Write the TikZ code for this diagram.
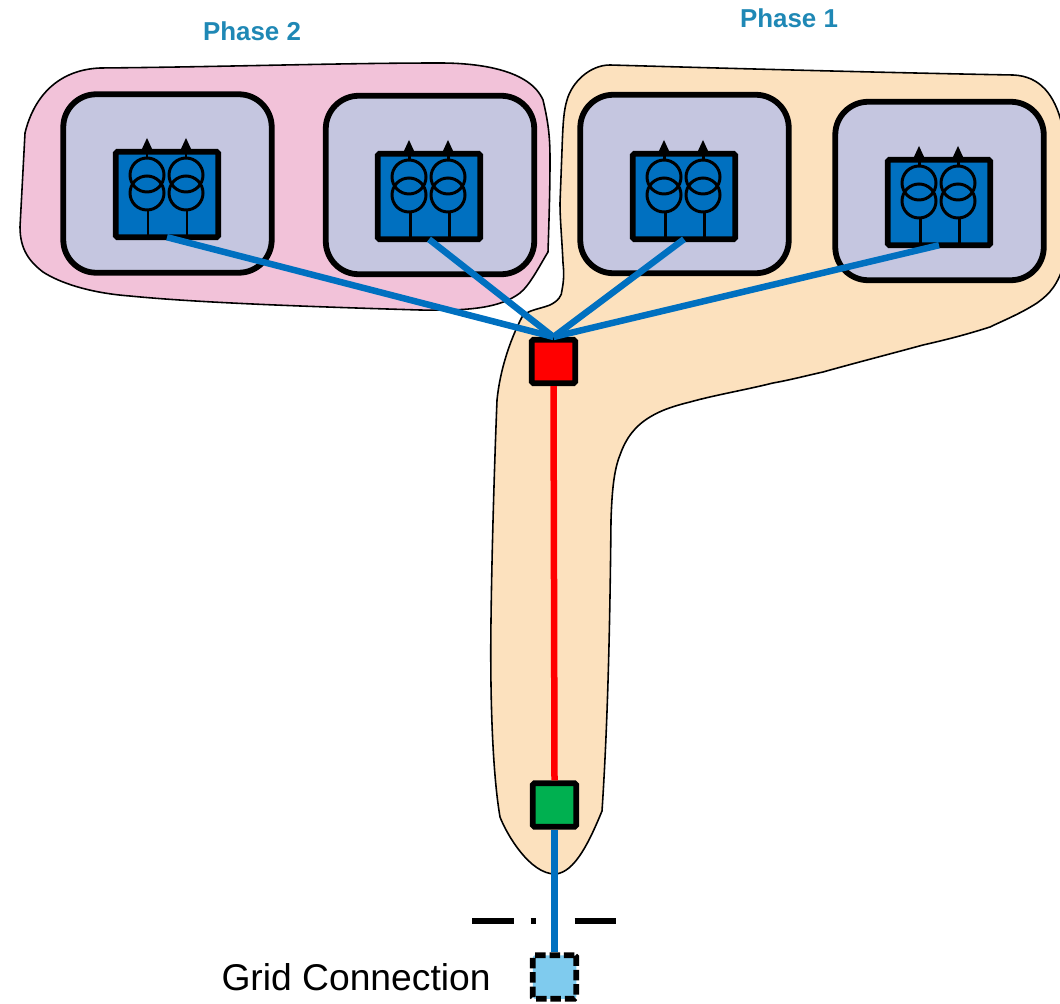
\documentclass[tikz,border=0pt]{standalone}
\usepackage{fontspec}
\setmainfont{Liberation Sans}
\definecolor{cblue}{HTML}{0070C0}
\definecolor{cgreen}{HTML}{00B050}
\definecolor{clight}{HTML}{7FCBEE}
\definecolor{clav}{HTML}{C5C6E0}
\definecolor{cpink}{HTML}{F2C2D9}
\definecolor{corange}{HTML}{FCE1BE}
\definecolor{ctitle}{HTML}{1F88B5}
\newcommand{\xfmrsym}[2]{%
  \begin{scope}[shift={(#1,#2)}]
    \foreach \dx in {-20,19}{
      \draw[symline] (\dx,-20) circle[radius=17];
      \draw[symline] (\dx,-2) circle[radius=17];
      \draw[symline] (\dx+1,15) -- (\dx+1,44);
      \draw[symline] (\dx,-37) -- (\dx,-50);
      \fill[black] (\dx-6,-44) -- (\dx,-57) -- (\dx+6,-44) -- cycle;
    }
  \end{scope}}
\tikzset{
  blob/.style={draw=black,line width=0.9pt},
  unitbox/.style={draw=black,fill=clav,line width=3.3pt,rounded corners=0.66cm,minimum width=4.17cm,minimum height=3.57cm,outer sep=0pt,inner sep=0pt},
  xfbox/.style={draw=black,fill=cblue,line width=3.3pt,rounded corners=1pt,minimum width=2.05cm,minimum height=1.71cm,outer sep=0pt,inner sep=0pt},
  symline/.style={draw=black,line width=1.7pt},
  feeder/.style={draw=cblue,line width=3.7pt},
  redline/.style={draw=red,line width=3.7pt},
  sq/.style={draw=black,line width=3.3pt,rounded corners=1pt,minimum size=0.87cm,outer sep=1.6pt,inner sep=0pt},
  title/.style={font=\fontsize{14.75}{17}\selectfont\bfseries,text=ctitle},
}
\begin{document}
\begin{tikzpicture}[x=0.02cm,y=-0.02cm]
\useasboundingbox (0,0) rectangle (1060,1003);
% zones
\draw[blob,fill=cpink] (25,133) .. controls (33,100) and (55,70) .. (100,68)
  .. controls (220,67) and (340,63) .. (440,63)
  .. controls (480,63) and (530,70) .. (543,100)
  .. controls (549,125) and (550,140) .. (550,160)
  .. controls (550,190) and (549,220) .. (548,252)
  .. controls (540,265) and (530,285) .. (520,293)
  .. controls (500,308) and (470,311) .. (420,310)
  .. controls (320,307) and (200,303) .. (130,296)
  .. controls (90,293) and (60,283) .. (43,272)
  .. controls (30,262) and (20,250) .. (20,227)
  -- cycle;
\draw[blob,fill=corange] (562,150) .. controls (563,120) and (564,110) .. (567,100)
  .. controls (572,82) and (590,65) .. (610,65)
  .. controls (750,69) and (900,73) .. (1013,75)
  .. controls (1040,76) and (1055,95) .. (1062,125)
  -- (1062,270) .. controls (1055,290) and (1045,297) .. (1037,303)
  .. controls (1020,314) and (1000,322) .. (990,327)
  .. controls (965,335) and (945,340) .. (923,345)
  .. controls (890,354) and (855,363) .. (823,372)
  .. controls (805,376) and (790,380) .. (773,383)
  .. controls (745,390) and (715,395) .. (690,402)
  .. controls (670,407) and (660,411) .. (650,417)
  .. controls (635,426) and (626,438) .. (620,455)
  .. controls (614,470) and (612,490) .. (611,520)
  .. controls (610,620) and (608,720) .. (602,811)
  .. controls (590,840) and (575,873) .. (555,874)
  .. controls (530,874) and (507,835) .. (500,817)
  .. controls (492,770) and (490,690) .. (491,620)
  .. controls (492,540) and (495,450) .. (497,400)
  .. controls (500,370) and (510,340) .. (522,317)
  .. controls (527,310) and (540,309) .. (550,305)
  .. controls (558,301) and (562,296) .. (562,290)
  .. controls (564,280) and (564,272) .. (563,263)
  .. controls (562,240) and (560,220) .. (560,203)
  -- cycle;
% units
\node[unitbox] (u1) at (167.5,183.5) {};
\node[unitbox] (u2) at (430,185) {};
\node[unitbox] (u3) at (684.5,184) {};
\node[unitbox] (u4) at (939.5,191) {};
\node[xfbox] (t1) at (167,194.5) {};
\node[xfbox] (t2) at (429,196.5) {};
\node[xfbox] (t3) at (684,196.5) {};
\node[xfbox] (t4) at (939,202.5) {};
\xfmrsym{167}{195}
\xfmrsym{429}{197}
\xfmrsym{684}{197}
\xfmrsym{939}{203}
% squares
\node[sq,fill=red] (hub) at (553.5,361.5) {};
\node[sq,fill=cgreen] (sub) at (554.5,805) {};
\node[sq,fill=clight,dashed,dash pattern=on 6pt off 2.2pt] (grid) at (554.5,977) {};
% boundary
\coordinate (bl) at (472,921);
\coordinate (br) at (616,921);
\draw[black,line width=3pt,dash pattern=on 23.8pt off 9.6pt on 2.9pt off 9.6pt on 2.9pt off 9.6pt on 24pt] (bl) -- (br);
% connectors
\draw[feeder] (t1.south) -- (hub.north);
\draw[feeder] (t2.south) -- (hub.north);
\draw[feeder] (t3.south) -- (hub.north);
\draw[feeder] (t4.south) -- (hub.north);
\draw[redline] (hub.south) -- (sub.north);
\draw[feeder] (sub.south) -- (grid.north);
% labels
\node[title] (ph2) at (252,31) {Phase 2};
\node[title] (ph1) at (789,18) {Phase 1};
\node[font=\fontsize{21.2}{24}\selectfont,anchor=base east,inner sep=0pt] (gc) at (491,990) {Grid Connection};
\end{tikzpicture}
\end{document}
